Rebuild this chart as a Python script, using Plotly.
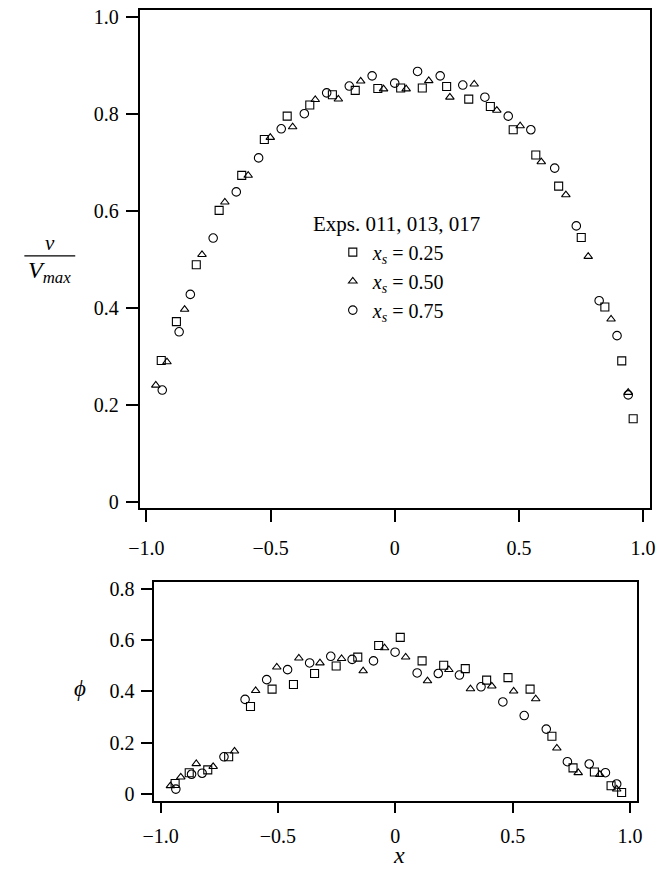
import plotly.graph_objects as go

# ---------------- data: top panel (v / V_max) ----------------
v_sq_x = [-0.940, -0.879, -0.799, -0.707, -0.616, -0.525, -0.433, -0.342, -0.251, -0.159, -0.068,
          0.024, 0.111, 0.209, 0.298, 0.385, 0.477, 0.568, 0.660, 0.751, 0.846, 0.914, 0.960]
v_sq_y = [0.292, 0.372, 0.489, 0.601, 0.673, 0.747, 0.795, 0.818, 0.839, 0.848, 0.852,
          0.853, 0.853, 0.856, 0.830, 0.815, 0.767, 0.715, 0.651, 0.545, 0.402, 0.291, 0.172]
v_tr_x = [-0.962, -0.917, -0.846, -0.776, -0.684, -0.590, -0.501, -0.411, -0.320, -0.227, -0.137,
          -0.045, 0.046, 0.137, 0.222, 0.320, 0.411, 0.505, 0.590, 0.689, 0.779, 0.871, 0.940]
v_tr_y = [0.241, 0.289, 0.397, 0.510, 0.618, 0.673, 0.751, 0.773, 0.829, 0.830, 0.867,
          0.851, 0.851, 0.868, 0.834, 0.861, 0.807, 0.775, 0.701, 0.633, 0.506, 0.377, 0.226]
v_ci_x = [-0.936, -0.868, -0.823, -0.731, -0.638, -0.548, -0.457, -0.364, -0.274, -0.183, -0.091,
          0.000, 0.092, 0.183, 0.274, 0.363, 0.457, 0.548, 0.644, 0.731, 0.823, 0.895, 0.940]
v_ci_y = [0.231, 0.351, 0.428, 0.544, 0.639, 0.709, 0.769, 0.800, 0.843, 0.857, 0.878,
          0.863, 0.887, 0.878, 0.859, 0.834, 0.795, 0.767, 0.688, 0.569, 0.415, 0.343, 0.221]

# ---------------- data: bottom panel (phi) ----------------
p_sq_x = [-0.938, -0.878, -0.799, -0.710, -0.617, -0.525, -0.434, -0.344, -0.252, -0.160, -0.071,
          0.021, 0.114, 0.206, 0.298, 0.389, 0.480, 0.574, 0.667, 0.757, 0.848, 0.919, 0.964]
p_sq_y = [0.041, 0.083, 0.094, 0.145, 0.341, 0.409, 0.427, 0.470, 0.499, 0.534, 0.579,
          0.611, 0.519, 0.502, 0.489, 0.444, 0.454, 0.409, 0.225, 0.102, 0.086, 0.032, 0.006]
p_tr_x = [-0.958, -0.914, -0.848, -0.776, -0.685, -0.595, -0.505, -0.411, -0.321, -0.229, -0.137,
          -0.046, 0.044, 0.137, 0.228, 0.320, 0.411, 0.504, 0.598, 0.688, 0.779, 0.871, 0.943]
p_tr_y = [0.032, 0.066, 0.118, 0.107, 0.167, 0.403, 0.495, 0.530, 0.511, 0.528, 0.480,
          0.570, 0.534, 0.441, 0.485, 0.410, 0.421, 0.401, 0.371, 0.179, 0.083, 0.076, 0.019]
p_ci_x = [-0.935, -0.868, -0.823, -0.730, -0.640, -0.548, -0.459, -0.365, -0.275, -0.184, -0.093,
          -0.001, 0.093, 0.183, 0.273, 0.365, 0.458, 0.549, 0.643, 0.733, 0.826, 0.895, 0.943]
p_ci_y = [0.019, 0.077, 0.081, 0.145, 0.369, 0.446, 0.485, 0.511, 0.537, 0.525, 0.519,
          0.553, 0.472, 0.470, 0.464, 0.418, 0.359, 0.306, 0.253, 0.126, 0.117, 0.083, 0.039]

series_names = ["<i>x</i><sub><i>s</i></sub> = 0.25",
                "<i>x</i><sub><i>s</i></sub> = 0.50",
                "<i>x</i><sub><i>s</i></sub> = 0.75"]
legend_title = "Exps. 011, 013, 017"

x_tickvals = [-1.0, -0.5, 0.0, 0.5, 1.0]
x_ticktext = ["\u22121.0", "\u22120.5", "0", "0.5", "1.0"]
v_tickvals = [0.0, 0.2, 0.4, 0.6, 0.8, 1.0]
v_ticktext = ["0", "0.2", "0.4", "0.6", "0.8", "1.0"]
p_tickvals = [0.0, 0.2, 0.4, 0.6, 0.8]
p_ticktext = ["0", "0.2", "0.4", "0.6", "0.8"]

W, H = 667, 869
FONT = "Liberation Serif, Times New Roman, serif"

symbols = ["square-open", "triangle-up-open", "circle-open"]
sizes = [8, 7.5, 8.5]

fig = go.Figure()
top = [(v_sq_x, v_sq_y), (v_tr_x, v_tr_y), (v_ci_x, v_ci_y)]
bot = [(p_sq_x, p_sq_y), (p_tr_x, p_tr_y), (p_ci_x, p_ci_y)]
for i, (xs, ys) in enumerate(top):
    fig.add_trace(go.Scatter(
        x=xs, y=ys, mode="markers", name=series_names[i], legendgroup=f"g{i}",
        marker=dict(symbol=symbols[i], size=sizes[i], color="black", line=dict(width=1.1, color="black")),
        xaxis="x", yaxis="y", showlegend=True))
for i, (xs, ys) in enumerate(bot):
    fig.add_trace(go.Scatter(
        x=xs, y=ys, mode="markers", name=series_names[i], legendgroup=f"g{i}",
        marker=dict(symbol=symbols[i], size=sizes[i], color="black", line=dict(width=1.1, color="black")),
        xaxis="x2", yaxis="y2", showlegend=False))


def px_x(p):
    """window pixel x -> paper fraction"""
    return min(1.0, max(0.0, p / W))


def px_y(p):
    """window pixel y (from top) -> paper fraction"""
    return min(1.0, max(0.0, (H - p) / H))


def axis_style(ticklen, standoff):
    return dict(showline=True, mirror=True, linecolor="black", linewidth=1.6,
                ticks="outside", ticklen=ticklen, tickwidth=1.6, tickcolor="black",
                showgrid=False, zeroline=False, ticklabelstandoff=standoff,
                ticklabeloverflow="allow",
                tickfont=dict(family=FONT, size=20, color="black"))


fig.update_layout(
    width=W, height=H,
    margin=dict(l=0, r=0, t=0, b=0),
    paper_bgcolor="white", plot_bgcolor="white",
    font=dict(family=FONT, color="black"),
    xaxis=dict(domain=[px_x(131.7), px_x(655.5)], range=[-1.025, 1.027], anchor="y",
               tickvals=x_tickvals, ticktext=x_ticktext, **axis_style(12.5, 9)),
    yaxis=dict(domain=[px_y(509), px_y(6)], range=[-0.0113, 1.0137], anchor="x",
               tickvals=v_tickvals, ticktext=v_ticktext, **axis_style(12.5, 3)),
    xaxis2=dict(domain=[px_x(145.7), px_x(642.7)], range=[-1.029, 1.031], anchor="y2",
                tickvals=x_tickvals, ticktext=x_ticktext, **axis_style(10.5, 6)),
    yaxis2=dict(domain=[px_y(805), px_y(584)], range=[-0.026, 0.827], anchor="x2",
                tickvals=p_tickvals, ticktext=p_ticktext, **axis_style(10.5, 3)),
    showlegend=True,
    legend=dict(x=px_x(329.7), y=px_y(231), xanchor="left", yanchor="top",
                bgcolor="rgba(0,0,0,0)", borderwidth=0, tracegroupgap=0,
                font=dict(family=FONT, size=20, color="black")),
)

annotations = [
    dict(text=legend_title, x=px_x(395), y=px_y(222), xref="paper", yref="paper",
         showarrow=False, xanchor="center", yanchor="middle",
         font=dict(family=FONT, size=21, color="black")),
    dict(text="<i>v</i>", x=px_x(39), y=px_y(242), xref="paper", yref="paper",
         showarrow=False, xanchor="center", yanchor="middle",
         font=dict(family=FONT, size=21, color="black")),
    dict(text="<i>V<sub>max</sub></i>", x=px_x(39), y=px_y(271), xref="paper", yref="paper",
         showarrow=False, xanchor="center", yanchor="middle",
         font=dict(family=FONT, size=24, color="black")),
    dict(text="<i>\u03d5</i>", x=px_x(70), y=px_y(692), xref="paper", yref="paper",
         showarrow=False, xanchor="center", yanchor="middle",
         font=dict(family=FONT, size=23, color="black")),
    dict(text="<i>x</i>", x=px_x(398), y=px_y(859.5), xref="paper", yref="paper",
         showarrow=False, xanchor="center", yanchor="middle", borderpad=0,
         font=dict(family=FONT, size=24, color="black")),
]
fig.update_layout(annotations=annotations)
fig.add_shape(type="line", xref="paper", yref="paper",
              x0=px_x(12.7), x1=px_x(65), y0=px_y(254.5), y1=px_y(254.5),
              line=dict(color="black", width=1.3))

# remove the browser's default 8px body margin so the figure sits at the window origin
fig.write_html("out.html",
               config={"displayModeBar": False},
               post_script="document.body.style.margin='0';document.body.style.overflow='hidden';")
